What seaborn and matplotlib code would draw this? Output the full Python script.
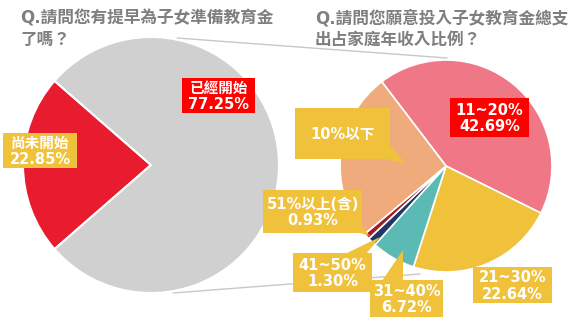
import matplotlib
matplotlib.use("Agg")
import matplotlib.pyplot as plt
from matplotlib.patches import Rectangle, Polygon
import seaborn as sns

sns.set_theme(style="white")
FONT = ["DejaVu Sans", "Noto Sans CJK TC"]
plt.rcParams["font.family"] = FONT

# ---------------- data ----------------
left_title = "Q.請問您有提早為子女準備教育金\n了嗎？"
left_labels = ["尚未開始", "已經開始"]
left_values = [22.85, 77.25]

right_title = "Q.請問您願意投入子女教育金總支\n出占家庭年收入比例？"
right_labels = ["11~20%", "21~30%", "31~40%", "41~50%", "51%以上(含)", "10%以下"]
right_values = [42.69, 22.64, 6.72, 1.30, 0.93, 25.72]
right_shown = ["42.69%", "22.64%", "6.72%", "1.30%", "0.93%", None]

# ---------------- style ----------------
W, H = 579, 332
left_colors = sns.color_palette(["#E81C2E", "#D0D0D0"])
right_colors = sns.color_palette(["#F07786", "#F0C23C", "#5CBAB5", "#1F3864", "#A01C28", "#F0AB7C"])
YEL = "#F0C23C"
RED = "#FF0000"
GRAY = "#7F7F7F"

fig = plt.figure(figsize=(W / 100, H / 100), dpi=100)
ax = fig.add_axes([0, 0, 1, 1])

def P(x, y):
    return (x, H - y)

# connector lines (behind pies)
ax.plot(*zip(P(177, 38), P(447, 58)), color="#C8C8C8", lw=1, zorder=0)
ax.plot(*zip(P(173, 293), P(420, 274)), color="#C8C8C8", lw=1, zorder=0)

# left pie
tot = sum(left_values)
ax.pie(left_values, colors=left_colors, center=P(151, 165), radius=128,
       startangle=180 - left_values[0] / tot * 360 / 2, counterclock=True,
       wedgeprops=dict(edgecolor="white", linewidth=1.5), frame=True)

# right pie
ax.pie(right_values, colors=right_colors, center=P(446, 166), radius=106,
       startangle=127.3, counterclock=False,
       wedgeprops=dict(edgecolor="white", linewidth=1.2), frame=True)

ax.set_xlim(0, W)
ax.set_ylim(0, H)
ax.set_aspect("equal")
ax.axis("off")

# titles
for x, t in [(20, left_title), (315, right_title)]:
    ax.text(*P(x, 9), t, ha="left", va="top", fontsize=12, color=GRAY,
            fontweight="bold", linespacing=1.25, family=FONT)

def label(text, box, fc, pointer=None):
    x0, y0, x1, y1 = box
    ax.add_patch(Rectangle(P(x0, y1), x1 - x0, y1 - y0, fc=fc, ec="none", zorder=5))
    if pointer is not None:
        ax.add_patch(Polygon([P(*p) for p in pointer], closed=True, fc=fc, ec="none", zorder=5))
    ax.text(*P((x0 + x1) / 2, (y0 + y1) / 2 + 1), text, ha="center", va="center",
            fontsize=10.5, color="white", fontweight="bold", linespacing=1.1,
            family=FONT, zorder=6)

label(f"{left_labels[1]}\n{left_values[1]:.2f}%", (182, 78, 255, 113), RED)
label(f"{left_labels[0]}\n{left_values[0]:.2f}%", (3, 133, 77, 168), YEL)

label(f"{right_labels[0]}\n{right_shown[0]}", (450, 98, 529, 137), RED)
label(f"{right_labels[1]}\n{right_shown[1]}", (473, 267, 552, 303), YEL)
label(f"{right_labels[2]}\n{right_shown[2]}", (370, 280, 443, 317), YEL,
      pointer=[(382, 281), (403, 250), (403, 281)])
label(f"{right_labels[3]}\n{right_shown[3]}", (293, 253, 372, 292), YEL,
      pointer=[(345, 254), (380, 237), (366, 254)])
label(f"{right_labels[4]}\n{right_shown[4]}", (263, 190, 362, 233), YEL,
      pointer=[(357, 232), (370, 236), (361, 226)])
label(right_labels[5], (295, 108, 390, 159), YEL,
      pointer=[(389, 144), (405, 163), (381, 158)])

fig.savefig("out.png", dpi=100)
